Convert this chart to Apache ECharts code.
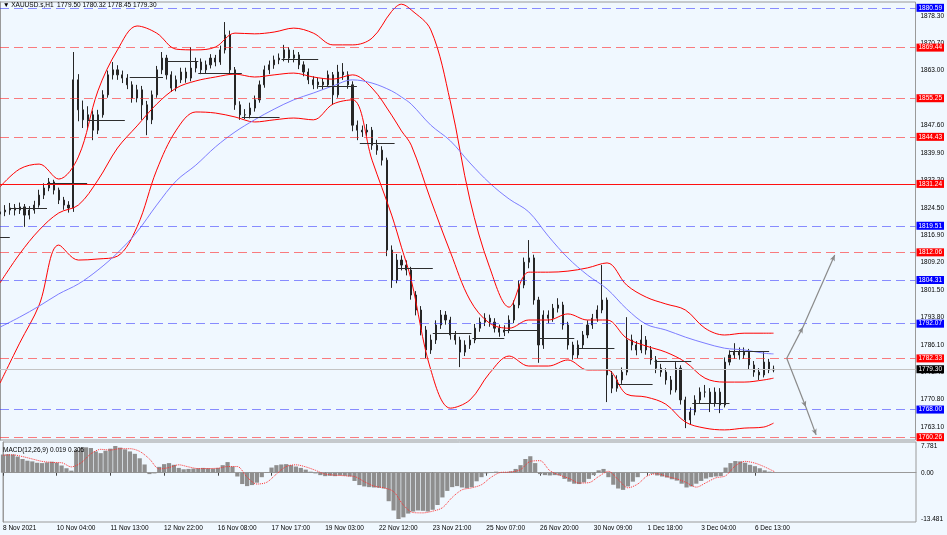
<!DOCTYPE html>
<html>
<head>
<meta charset="utf-8">
<script src="https://cdn.jsdelivr.net/npm/echarts@6/dist/echarts.min.js"></script>
<style>
  html, body { margin: 0; padding: 0; background: #f0f8ff; }
  #chart { width: 947px; height: 535px; }
</style>
</head>
<body>
<div id="chart"></div>
<script>
// XAUUSD.s H1, resampled to 3-hour bars: [open, close, low, high]
const ohlc = [
  [1822.8,1823.4,1820.2,1825.0],[1823.4,1823.9,1822.2,1825.3],[1823.9,1824.5,1822.6,1825.9],[1824.5,1823.9,1822.4,1825.6],
  [1823.9,1824.8,1822.8,1826.0],[1824.8,1822.5,1819.2,1825.6],[1822.5,1823.9,1821.3,1825.0],[1823.9,1825.3,1822.9,1826.5],
  [1825.3,1828.1,1824.6,1829.6],[1828.1,1830.1,1827.0,1831.4],[1830.1,1831.8,1829.2,1832.9],[1831.8,1829.5,1828.3,1832.4],
  [1829.5,1826.7,1825.6,1830.2],[1826.7,1825.3,1824.0,1827.6],[1825.3,1824.5,1823.2,1826.4],[1824.5,1860.4,1823.4,1868.2],
  [1860.4,1852.0,1848.8,1862.0],[1852.0,1849.2,1846.9,1854.6],[1849.2,1850.6,1846.5,1853.0],[1850.6,1846.3,1843.5,1851.8],
  [1846.3,1850.6,1845.2,1852.0],[1850.6,1856.2,1849.8,1857.5],[1856.2,1861.8,1855.4,1863.0],[1861.8,1863.2,1860.5,1865.4],
  [1863.2,1861.8,1860.4,1864.5],[1861.8,1860.9,1859.5,1863.0],[1860.9,1859.0,1857.8,1862.0],[1859.0,1855.3,1854.0,1860.0],
  [1855.3,1857.6,1854.1,1859.0],[1857.6,1853.4,1849.2,1858.7],[1853.4,1849.2,1844.9,1854.5],[1849.2,1856.2,1848.0,1857.4],
  [1856.2,1863.2,1855.4,1864.3],[1863.2,1866.5,1862.0,1868.2],[1866.5,1861.8,1860.5,1867.4],[1861.8,1858.1,1857.0,1862.8],
  [1858.1,1860.4,1857.2,1861.6],[1860.4,1862.6,1859.5,1863.8],[1862.6,1860.9,1859.6,1863.8],[1860.9,1863.7,1860.0,1869.6],
  [1863.7,1865.4,1862.5,1866.6],[1865.4,1863.2,1862.0,1866.4],[1863.2,1864.6,1862.2,1865.8],[1864.6,1866.5,1863.6,1867.6],
  [1866.5,1865.4,1864.2,1867.4],[1865.4,1868.8,1864.6,1870.0],[1868.8,1873.0,1867.8,1876.6],[1873.0,1863.2,1862.0,1874.2],
  [1863.2,1853.4,1852.0,1864.0],[1853.4,1850.6,1849.2,1854.4],[1850.6,1850.6,1849.4,1852.2],[1850.6,1852.5,1849.6,1854.0],
  [1852.5,1854.8,1851.5,1856.0],[1854.8,1859.0,1854.0,1860.2],[1859.0,1863.2,1858.2,1864.4],[1863.2,1864.6,1862.0,1865.8],
  [1864.6,1866.0,1863.5,1867.2],[1866.0,1866.5,1864.8,1867.8],[1866.5,1868.8,1865.6,1870.2],[1868.8,1866.5,1865.2,1869.6],
  [1866.5,1867.4,1865.3,1868.8],[1867.4,1864.6,1863.4,1868.2],[1864.6,1862.6,1861.4,1865.6],[1862.6,1860.4,1859.2,1863.6],
  [1860.4,1859.0,1857.8,1861.4],[1859.0,1859.8,1857.9,1861.0],[1859.8,1859.0,1857.6,1860.9],[1859.0,1861.8,1858.4,1863.0],
  [1861.8,1856.2,1853.4,1862.6],[1856.2,1862.6,1855.4,1864.6],[1862.6,1861.8,1860.4,1865.1],[1861.8,1859.0,1857.9,1862.8],
  [1859.0,1847.7,1846.0,1860.0],[1847.7,1846.3,1843.5,1849.0],[1846.3,1845.8,1844.4,1847.6],[1845.8,1846.3,1844.6,1848.0],
  [1846.3,1842.1,1840.8,1847.2],[1842.1,1840.7,1839.4,1843.6],[1840.7,1837.9,1836.4,1841.8],[1837.9,1812.7,1811.0,1838.6],
  [1812.7,1804.3,1802.1,1814.0],[1804.3,1809.9,1803.4,1811.6],[1809.9,1808.5,1807.0,1811.2],[1808.5,1807.1,1805.6,1809.8],
  [1807.1,1800.1,1798.8,1808.0],[1800.1,1795.9,1794.4,1801.2],[1795.9,1790.3,1788.8,1797.0],[1790.3,1784.7,1782.4,1791.4],
  [1784.7,1787.5,1783.6,1789.0],[1787.5,1791.7,1786.4,1793.0],[1791.7,1794.5,1790.6,1795.9],[1794.5,1793.1,1791.8,1795.6],
  [1793.1,1788.9,1787.6,1794.0],[1788.9,1787.5,1786.2,1790.0],[1787.5,1784.1,1779.9,1788.4],[1784.1,1786.1,1783.0,1787.4],
  [1786.1,1787.5,1785.0,1788.8],[1787.5,1790.8,1786.6,1792.0],[1790.8,1792.5,1789.8,1793.8],[1792.5,1793.6,1791.4,1795.0],
  [1793.6,1792.5,1791.2,1794.6],[1792.5,1790.8,1789.6,1793.6],[1790.8,1789.7,1788.4,1791.8],[1789.7,1790.3,1788.6,1791.6],
  [1790.3,1793.1,1789.4,1794.4],[1793.1,1797.3,1792.2,1798.6],[1797.3,1802.9,1796.4,1804.2],[1802.9,1809.3,1802.0,1810.6],
  [1809.3,1810.5,1807.6,1815.5],[1810.5,1798.7,1797.4,1811.4],[1798.7,1786.1,1781.1,1799.6],[1786.1,1794.5,1785.0,1795.8],
  [1794.5,1793.6,1792.2,1795.8],[1793.6,1796.4,1792.6,1797.6],[1796.4,1797.3,1795.2,1799.2],[1797.3,1791.7,1790.4,1798.2],
  [1791.7,1786.1,1784.8,1792.6],[1786.1,1783.3,1782.0,1787.0],[1783.3,1786.1,1782.4,1787.4],[1786.1,1788.9,1785.2,1790.0],
  [1788.9,1791.7,1788.0,1793.0],[1791.7,1793.6,1790.6,1794.8],[1793.6,1795.9,1792.6,1797.2],[1795.9,1798.7,1795.0,1808.5],
  [1798.7,1777.7,1770.1,1799.4],[1777.7,1774.0,1772.6,1778.8],[1774.0,1776.3,1773.0,1777.6],[1776.3,1778.5,1775.2,1779.8],
  [1778.5,1787.5,1777.6,1793.9],[1787.5,1786.1,1784.6,1789.0],[1786.1,1784.7,1783.2,1787.2],[1784.7,1787.5,1783.8,1791.7],
  [1787.5,1784.7,1783.4,1788.6],[1784.7,1781.9,1780.6,1785.8],[1781.9,1779.6,1778.2,1783.0],[1779.6,1778.5,1777.2,1780.8],
  [1778.5,1776.3,1775.0,1779.6],[1776.3,1773.5,1772.2,1777.4],[1773.5,1779.6,1772.8,1781.3],[1779.6,1770.7,1769.4,1780.4],
  [1770.7,1765.1,1762.8,1771.6],[1765.1,1767.3,1763.8,1768.6],[1767.3,1770.7,1766.4,1772.0],[1770.7,1772.9,1769.8,1774.2],
  [1772.9,1772.9,1771.4,1774.9],[1772.9,1769.8,1767.3,1774.0],[1769.8,1772.9,1768.8,1774.2],[1772.9,1769.3,1767.0,1774.0],
  [1769.3,1781.3,1768.6,1782.6],[1781.3,1783.3,1780.4,1784.6],[1783.3,1784.1,1782.2,1786.6],[1784.1,1783.3,1782.0,1785.4],
  [1783.3,1784.1,1782.2,1785.4],[1784.1,1780.5,1779.2,1785.0],[1780.5,1778.5,1777.2,1781.6],[1778.5,1777.7,1776.3,1779.6],
  [1777.7,1781.3,1777.0,1784.1],[1781.3,1779.1,1778.2,1782.2],[1779.1,1779.3,1778.45,1780.32]
];

// bar positions where the indicator lines were read
const bandIdx = [0,4,8,12,16,20,24,28,32,36,40,44,48,52,56,60,64,68,72,76,80,82,84,88,92,96,100,104,108,112,116,120,124,128,132,136,140,144,148,152,156,158];
const bbUpper = [1830.4,1835.4,1836.8,1832.6,1838.8,1857.3,1868.8,1875.5,1873.5,1869.0,1868.8,1869.6,1873.5,1873.3,1873.8,1874.9,1873.5,1870.2,1870.2,1872.1,1879.6,1881.6,1880.0,1874.4,1854.2,1826.7,1807.9,1796.7,1806.5,1806.5,1806.8,1807.7,1809.1,1802.9,1799.5,1797.6,1795.9,1790.8,1788.9,1789.4,1789.4,1789.4];
const bbMiddle = [1803.5,1811.6,1818.3,1823.1,1825.3,1832.3,1841.3,1847.5,1853.6,1858.1,1860.1,1861.2,1862.0,1861.2,1861.8,1862.3,1861.2,1860.6,1861.8,1858.1,1850.5,1846.1,1842.1,1826.7,1812.1,1798.7,1792.2,1790.8,1793.1,1793.1,1794.8,1793.1,1793.1,1788.0,1785.8,1784.1,1781.3,1776.8,1775.7,1775.7,1776.3,1776.8];
const bbLower = [1775.4,1786.6,1797.3,1814.1,1809.9,1810.2,1811.0,1819.2,1835.1,1846.3,1851.4,1851.1,1850.0,1848.6,1849.2,1849.7,1849.2,1853.6,1854.8,1837.9,1822.5,1813.5,1804.3,1779.1,1768.4,1770.7,1778.2,1783.0,1780.2,1780.2,1781.9,1779.1,1779.1,1772.3,1771.5,1769.5,1764.5,1762.8,1762.3,1762.8,1763.1,1764.2];
const maSlow = [1791.1,1793.9,1797.0,1800.4,1803.2,1807.1,1811.9,1817.8,1825.3,1832.1,1836.5,1841.6,1845.8,1849.2,1852.2,1854.8,1856.7,1858.7,1860.4,1859.5,1857.3,1855.6,1853.6,1847.7,1843.3,1837.1,1831.5,1827.0,1823.4,1816.6,1810.5,1805.7,1801.8,1796.2,1791.9,1790.3,1788.3,1786.6,1785.2,1784.7,1783.8,1783.6];

// MACD(12,26,9) main histogram, one value per bar
const macdHist = [
  5.3,5.4,5.3,4.7,4.0,3.5,3.3,2.9,2.8,3.0,3.2,2.9,2.1,1.3,0.6,6.6,7.3,7.4,7.2,6.2,
  5.7,6.4,7.0,7.781,7.3,6.8,6.2,5.5,4.2,2.4,-0.4,-0.2,1.7,2.5,2.8,2.3,1.4,1.0,1.1,1.2,
  1.3,1.4,1.3,1.2,1.4,2.2,3.1,1.8,-1.1,-3.3,-3.9,-3.6,-2.9,-1.3,0.2,1.5,2.2,2.4,2.5,2.2,
  1.8,1.4,0.9,0.3,-0.2,-0.7,-1.0,-0.9,-1.0,-0.8,-0.9,-1.1,-2.4,-3.6,-4.0,-4.2,-4.3,-4.4,-4.6,-8.3,
  -11.0,-13.481,-13.0,-11.9,-11.3,-11.0,-11.1,-11.3,-10.8,-9.4,-7.2,-5.3,-4.2,-3.9,-4.3,-4.5,-4.2,-2.5,-1.3,-0.2,
  0.2,0.3,0.1,0.2,0.4,1.1,2.2,4.0,4.8,2.8,-0.4,-0.7,-0.8,-0.7,-0.8,-1.8,-2.6,-3.2,-3.3,-2.8,
  -1.8,-0.7,0.7,1.1,-1.3,-3.5,-4.6,-5.0,-4.0,-2.6,-1.3,0.1,0.2,-0.3,-0.8,-1.1,-1.4,-1.9,-2.3,-3.2,
  -4.3,-4.0,-3.2,-2.4,-1.7,-1.3,-1.1,-1.0,1.5,2.8,3.4,3.3,2.9,2.3,1.9,1.3,0.7,0.3,0.019
];
const signalIdx = [0,2,4,6,8,10,12,14,16,18,20,22,24,26,28,30,32,34,36,38,40,44,46,48,50,52,54,56,58,60,62,64,66,70,72,74,76,78,80,82,84,86,88,90,92,94,96,98,100,102,104,106,108,110,112,114,116,118,120,122,124,126,128,130,132,134,136,138,140,142,144,146,148,150,152,154,156,158];
const signalVal = [5.1,5.2,4.7,4.0,3.3,3.0,2.9,1.7,2.9,5.5,6.8,6.6,7.0,7.0,6.2,4.0,1.1,1.5,2.3,1.7,1.2,1.3,1.8,1.8,-1.3,-3.3,-2.8,-0.4,1.8,2.3,1.7,0.7,-0.4,-0.9,-1.1,-2.6,-3.9,-4.4,-5.5,-9.4,-11.6,-11.7,-11.2,-10.2,-7.2,-5.0,-4.4,-3.5,-1.3,0.1,0.2,0.9,3.3,3.5,0.6,-0.7,-1.7,-3.0,-2.9,-1.1,0.4,-2.0,-4.4,-3.3,-0.9,-0.3,-1.1,-1.8,-2.9,-4.2,-2.9,-1.5,-0.9,2.0,3.3,2.8,1.7,0.305];

// horizontal levels drawn on the chart
const levelPrices = [1880.59,1869.44,1855.25,1844.43,1831.24,1819.51,1812.06,1804.31,1792.07,1782.33,1768.00,1760.26];
const levelKinds  = ['b','r','r','r','r','b','r','b','b','r','b','r'];
const levelSolid  = [false,false,false,false,true,false,false,false,false,false,false,false];
const lastPrice = 1779.30;

// daily open segments: start bar, end bar, price
const segStart = [0,2,9.6,17.8,26.5,34,40.5,49.4,57.5,65,73.5,81,88.4,96.5,103,110.2,117.8,125.9,133.7,141.4,149];
const segEnd   = [2,9.6,17.8,25.5,33.3,40.5,49.4,57.1,65,72.9,80.6,88.4,96.3,103,109.8,117.3,125.5,133.3,141.2,149,157.1];
const segPrice = [1816.4,1824.5,1831.5,1849.2,1861.2,1865.7,1862.3,1850.0,1866.2,1858.7,1842.7,1807.7,1789.4,1788.0,1790.3,1788.0,1785.2,1775.1,1781.6,1769.8,1784.4];

// projection arrows: [bar, price] points
const arrowUp   = [[160.7,1782.4],[164.0,1791.1],[170.5,1811.3]];
const arrowDown = [[160.7,1782.4],[164.6,1768.7],[166.7,1760.9]];

const tickLabels = ['8 Nov 2021','10 Nov 04:00','11 Nov 13:00','12 Nov 22:00','16 Nov 08:00','17 Nov 17:00','19 Nov 03:00','22 Nov 12:00','23 Nov 21:00','25 Nov 07:00','26 Nov 20:00','30 Nov 09:00','1 Dec 18:00','3 Dec 04:00','6 Dec 13:00'];
const priceTicks = [1878.30,1870.70,1863.00,1855.30,1847.60,1839.90,1832.20,1824.50,1816.90,1809.20,1801.50,1793.80,1786.10,1778.40,1770.80,1763.10];
const macdTicks = [7.781, 0, -13.481];
const macdTickText = ['7.781', '0.00', '-13.481'];

const SLOTS = 188;
const LABEL_EVERY = 11;
const cats = [];
for (let i = 0; i < SLOTS; i++) {
  const k = i / LABEL_EVERY;
  cats.push(i % LABEL_EVERY === 0 && k < tickLabels.length ? tickLabels[k] : '');
}

const FONT = 'Liberation Sans';
const FS = 6.5;
const pair = (xs, ys) => xs.map((x, k) => [x, ys[k]]);
const hasLabel = (i, v) => v !== '';

const levelData = levelPrices.map((p, k) => {
  const blue = levelKinds[k] === 'b';
  return {
    yAxis: p,
    lineStyle: {
      color: blue ? 'rgba(50,50,255,0.55)' : (levelSolid[k] ? '#ff1010' : 'rgba(255,40,40,0.6)'),
      type: levelSolid[k] ? 'solid' : [9, 5],
      width: 1
    },
    label: { backgroundColor: blue ? '#0000ff' : '#ff0000' }
  };
});
levelData.push({
  yAxis: lastPrice,
  lineStyle: { color: '#c4c4c4', type: 'solid', width: 1 },
  label: { backgroundColor: '#000000' }
});

const segData = segStart.map((s, k) => [
  { coord: [s, segPrice[k]] },
  { coord: [segEnd[k], segPrice[k]] }
]);

const arrowData = [];
[arrowUp, arrowDown].forEach(path => {
  for (let k = 0; k < path.length - 1; k++) {
    arrowData.push([{ coord: path[k] }, { coord: path[k + 1] }]);
  }
});

// little tick marks left of the price labels on the right scale
const tickMarks = priceTicks.map(p => [{ coord: [SLOTS - 1, p] }, { coord: [SLOTS - 1 + 0.6, p] }]);

const chart = echarts.init(document.getElementById('chart'));

const option = {
  animation: false,
  backgroundColor: '#f0f8ff',
  textStyle: { fontFamily: FONT },
  title: [
    {
      text: '\u25BC XAUUSD.s,H1  1779.50 1780.32 1778.45 1779.30',
      left: 3, top: 2, padding: 0,
      textStyle: { fontSize: FS, fontWeight: 'normal', color: '#000', fontFamily: FONT }
    },
    {
      text: 'MACD(12,26,9) 0.019 0.305',
      left: 3, top: 447, padding: 0,
      textStyle: { fontSize: FS, fontWeight: 'normal', color: '#000', fontFamily: FONT }
    }
  ],
  grid: [
    { left: 0, top: 2, width: 916, height: 438, show: true, borderColor: '#9a9a9a', borderWidth: 1 },
    { left: 0, top: 442, width: 916, height: 80, show: true, borderColor: '#9a9a9a', borderWidth: 1 }
  ],
  xAxis: [
    { type: 'category', gridIndex: 0, data: cats, boundaryGap: false, show: false },
    { type: 'value', gridIndex: 0, min: 0, max: SLOTS - 1, show: false },
    {
      type: 'category', gridIndex: 1, data: cats, boundaryGap: false,
      axisLine: { lineStyle: { color: '#9a9a9a' } },
      axisTick: { interval: hasLabel, length: 3, lineStyle: { color: '#444' } },
      axisLabel: { interval: hasLabel, align: 'left', fontSize: FS, color: '#000', margin: 3, fontFamily: FONT },
      splitLine: { show: false }
    },
    { type: 'value', gridIndex: 1, min: 0, max: SLOTS - 1, show: false }
  ],
  yAxis: [
    {
      type: 'value', gridIndex: 0, position: 'right',
      min: 1759.47, max: 1882.22,
      splitLine: { show: false },
      axisLine: { show: true, lineStyle: { color: '#9a9a9a' } },
      axisTick: { show: false },
      axisLabel: {
        customValues: priceTicks, margin: 5, fontSize: FS, color: '#000', fontFamily: FONT,
        formatter: v => Number(v).toFixed(2)
      }
    },
    {
      type: 'value', gridIndex: 1, position: 'right',
      min: -14.355, max: 8.946,
      splitLine: { show: false },
      axisLine: { show: true, lineStyle: { color: '#9a9a9a' } },
      axisTick: { show: false },
      axisLabel: {
        customValues: macdTicks, margin: 5, fontSize: FS, color: '#000', fontFamily: FONT,
        formatter: v => {
          const k = macdTicks.findIndex(t => Math.abs(t - v) < 1e-6);
          return k >= 0 ? macdTickText[k] : '';
        }
      }
    }
  ],
  series: [
    {
      name: 'levels', type: 'line', xAxisIndex: 1, yAxisIndex: 0, z: 1,
      data: [[0, lastPrice]], symbol: 'none', lineStyle: { opacity: 0 }, silent: true,
      markLine: {
        silent: true, symbol: ['none', 'none'], animation: false,
        label: {
          show: true, position: 'end', distance: 1, color: '#fff', fontSize: FS, fontFamily: FONT,
          padding: [1, 2, 0, 2], formatter: p => Number(p.value).toFixed(2)
        },
        data: levelData
      }
    },
    {
      name: 'ticks', type: 'line', xAxisIndex: 1, yAxisIndex: 0, z: 1,
      data: [[0, lastPrice]], symbol: 'none', lineStyle: { opacity: 0 }, silent: true,
      markLine: {
        silent: true, symbol: ['none', 'none'], animation: false, label: { show: false },
        lineStyle: { color: '#555', width: 1, type: 'solid' },
        data: tickMarks
      }
    },
    {
      name: 'XAUUSD', type: 'candlestick', xAxisIndex: 0, yAxisIndex: 0, z: 3,
      data: ohlc, barWidth: 1.6,
      itemStyle: { color: '#262626', color0: '#262626', borderColor: '#262626', borderColor0: '#262626', borderWidth: 1 }
    },
    {
      name: 'BB upper', type: 'line', xAxisIndex: 1, yAxisIndex: 0, z: 4,
      data: pair(bandIdx, bbUpper), smooth: 0.35, symbol: 'none', lineStyle: { color: '#ff0000', width: 1 }
    },
    {
      name: 'BB middle', type: 'line', xAxisIndex: 1, yAxisIndex: 0, z: 4,
      data: pair(bandIdx, bbMiddle), smooth: 0.35, symbol: 'none', lineStyle: { color: '#ff0000', width: 1 }
    },
    {
      name: 'BB lower', type: 'line', xAxisIndex: 1, yAxisIndex: 0, z: 4,
      data: pair(bandIdx, bbLower), smooth: 0.35, symbol: 'none', lineStyle: { color: '#ff0000', width: 1 }
    },
    {
      name: 'MA', type: 'line', xAxisIndex: 1, yAxisIndex: 0, z: 4,
      data: pair(bandIdx, maSlow), smooth: 0.35, symbol: 'none', lineStyle: { color: '#7c7cff', width: 1 }
    },
    {
      name: 'drawings', type: 'line', xAxisIndex: 1, yAxisIndex: 0, z: 5,
      data: [[0, lastPrice]], symbol: 'none', lineStyle: { opacity: 0 }, silent: true,
      markLine: {
        silent: true, symbol: ['none', 'none'], animation: false, label: { show: false },
        lineStyle: { color: '#2e2e2e', width: 1, type: 'solid' },
        data: segData
      }
    },
    {
      name: 'arrows', type: 'line', xAxisIndex: 1, yAxisIndex: 0, z: 5,
      data: [[0, lastPrice]], symbol: 'none', lineStyle: { opacity: 0 }, silent: true,
      markLine: {
        silent: true, symbol: ['none', 'arrow'], symbolSize: [4, 6], animation: false, label: { show: false },
        lineStyle: { color: '#8a8a8a', width: 1.2, type: 'solid' },
        data: arrowData
      }
    },
    {
      name: 'MACD', type: 'bar', xAxisIndex: 2, yAxisIndex: 1, z: 2,
      data: macdHist, barWidth: 4.2, itemStyle: { color: '#8e8e8e' }
    },
    {
      name: 'Signal', type: 'line', xAxisIndex: 3, yAxisIndex: 1, z: 3,
      data: pair(signalIdx, signalVal), smooth: 0.3, symbol: 'none',
      lineStyle: { color: '#ff3030', width: 1, type: 'dotted' }
    }
  ]
};

chart.setOption(option);
</script>
</body>
</html>
